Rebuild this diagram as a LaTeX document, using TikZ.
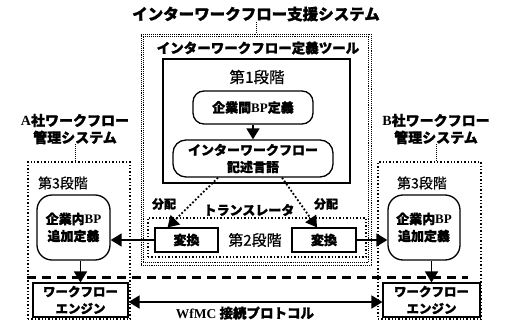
\documentclass[tikz,border=0pt]{standalone}
\usepackage{fontspec}
\setmainfont{Noto Sans CJK JP}[BoldFeatures={FakeBold=1.3}]
\newfontfamily\med{Noto Sans CJK JP}[FakeBold=0.6]
\newfontfamily\lat{Liberation Serif}
\usetikzlibrary{arrows.meta}
\tikzset{
  fs/.style={font=\med\fontsize{#1}{17}\selectfont},
  bt/.style={font=\bfseries\fontsize{#1}{17}\selectfont},
  lbl/.style={inner sep=0pt, align=center},
  sysbox/.style={draw, densely dotted, line width=0.9pt, inner sep=0pt},
  thickbox/.style={draw, line width=2.4pt, inner sep=0pt},
  rbox/.style={draw, line width=1.3pt, rounded corners=11pt, inner sep=0pt, align=center},
  sbox/.style={draw, line width=1.1pt, inner sep=0pt, align=center},
  dotbox/.style={draw, dotted, line width=1.4pt, inner sep=0pt},
  arr/.style={-{Triangle[length=11pt,width=13pt]}, line width=1.8pt},
  darr/.style={{Triangle[length=11pt,width=13pt]}-{Triangle[length=11pt,width=13pt]}, line width=1.8pt},
  dotarr/.style={-{Triangle[length=11pt,width=13pt]}, dotted, line width=1.8pt},
  tick/.style={densely dotted, line width=1pt}
}
\begin{document}
\begin{tikzpicture}[x=1pt,y=-1pt]
\useasboundingbox (0,0) rectangle (506,321);
% support system
\node[bt=15.5, lbl] (title) at (256,14) {インターワークフロー支援システム};
\node[sysbox, minimum width=230pt, minimum height=231pt] (sys) at (256,149.5) {};
\node[sysbox, minimum width=225.5pt, minimum height=226.5pt] (sysin) at (256,149.5) {};
\draw[tick] (title.south) -- (title.south |- sys.north);
\node[bt=13.5, lbl] (tool) at (258,48) {インターワークフロー定義ツール};
% stage 1
\node[thickbox, minimum width=187pt, minimum height=124pt] (st1) at (256.5,121) {};
\node[fs=15.5, lbl] (s1lab) at (257,77) {第1段階};
\node[rbox, bt=13, minimum width=120pt, minimum height=33pt] (bpi) at (253,107.5) {企業間{\lat BP}定義};
\node[rbox, bt=13, minimum width=160pt, minimum height=37pt, rounded corners=13pt] (iwf) at (253,158.5) {インターワークフロー\\記述言語};
\draw[arr] (bpi.south) -- (iwf.north);
% translator
\node[dotbox, minimum width=218pt, minimum height=39pt] (tr) at (257,237.5) {};
\node[bt=13, lbl] (trlab) at (249,210) {トランスレータ};
\node[sbox, bt=13, minimum width=63pt, minimum height=24pt] (hl) at (186.5,240) {変換};
\node[sbox, bt=13, minimum width=64pt, minimum height=24pt] (hr) at (324,240) {変換};
\node[fs=15, lbl] (s2lab) at (255,240) {第2段階};
\node[bt=12, lbl] (dl) at (164,204) {分配};
\node[bt=12, lbl] (dr) at (326,204) {分配};
\draw[dotarr] ([xshift=-35pt]iwf.south) -- ([xshift=-19pt]hl.north);
\draw[dotarr] ([xshift=29pt]iwf.south) -- ([xshift=-7pt]hr.north);
% A side
\node[bt=14, lbl] (alab) at (75,129) {{\lat A}社ワークフロー\\管理システム};
\node[dotbox, minimum width=102pt, minimum height=157pt] (abox) at (79,240.5) {};
\draw[tick] (alab.south) -- (alab.south |- abox.north);
\node[fs=14, lbl] (a3) at (63,183) {第3段階};
\node[rbox, bt=13, minimum width=73pt, minimum height=65pt, rounded corners=15pt] (bpa) at (73.5,227.5) {企業内{\lat BP}\\追加定義};
\node[sbox, bt=12.5, minimum width=95pt, minimum height=34pt] (ea) at (80.5,300) {ワークフロー\\エンジン};
\draw[arr] (ea.north |- bpa.south) -- (ea.north);
\draw[arr] (hl.west) -- (hl.west -| bpa.east);
% B side
\node[bt=14, lbl] (blab) at (436,129) {{\lat B}社ワークフロー\\管理システム};
\node[dotbox, minimum width=103pt, minimum height=157pt] (bbox) at (429.5,240.5) {};
\draw[tick] (blab.south) -- (blab.south |- bbox.north);
\node[fs=14, lbl] (b3) at (422,183) {第3段階};
\node[rbox, bt=13, minimum width=72pt, minimum height=65pt, rounded corners=15pt] (bpb) at (424,227.5) {企業内{\lat BP}\\追加定義};
\node[sbox, bt=12.5, minimum width=97pt, minimum height=34pt] (eb) at (431.5,300) {ワークフロー\\エンジン};
\draw[arr] (eb.north |- bpb.south) -- (eb.north);
\draw[arr] (hr.east) -- (hr.east -| bpb.west);
% protocol
\coordinate (dashl) at (27,277.5);
\coordinate (dashr) at (468,277.5);
\draw[line width=2.4pt, dash pattern=on 9pt off 6pt] (dashl) -- (dashr);
\draw[darr] ([yshift=-2pt]ea.east) -- ([yshift=-2pt]eb.west);
\node[bt=13.5, lbl] (wfmc) at (245,313) {{\lat WfMC} 接続プロトコル};
\end{tikzpicture}
\end{document}
